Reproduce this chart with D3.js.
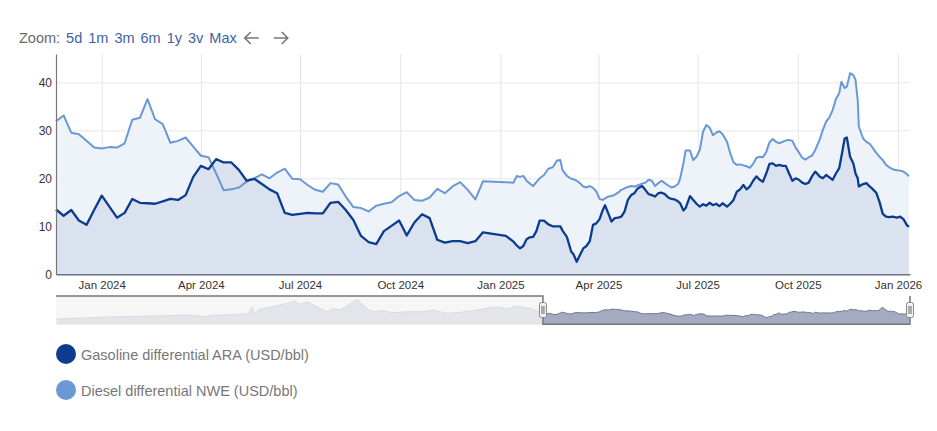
<!DOCTYPE html>
<html>
<head>
<meta charset="utf-8">
<script src="https://cdn.jsdelivr.net/npm/d3@7/dist/d3.min.js"></script>
<style>
    body { margin: 0; background: #fff; }
    svg text { font-family: "Liberation Sans", Arial, sans-serif; }
</style>
</head>
<body>
<div id="chart-area"></div>
<script>

// Dates of the observations (weekly first, then roughly every 3 days)
var dates = [
    "2023-11-20","2023-11-27","2023-12-04","2023-12-11","2023-12-18","2023-12-25",
    "2024-01-01","2024-01-08","2024-01-15","2024-01-22","2024-01-29","2024-02-05",
    "2024-02-12","2024-02-19","2024-02-26","2024-03-04","2024-03-11","2024-03-18",
    "2024-03-25","2024-04-01","2024-04-08","2024-04-15","2024-04-22","2024-04-29",
    "2024-05-06","2024-05-13","2024-05-20","2024-05-27","2024-06-03","2024-06-10",
    "2024-06-17","2024-06-24","2024-07-01","2024-07-08","2024-07-15","2024-07-22",
    "2024-07-29","2024-08-05","2024-08-12","2024-08-19","2024-08-26","2024-09-02",
    "2024-09-09","2024-09-16","2024-09-23","2024-09-30","2024-10-07","2024-10-14",
    "2024-10-21","2024-10-28","2024-11-04","2024-11-11","2024-11-18","2024-11-25",
    "2024-12-02","2024-12-09","2024-12-16","2025-01-06",
    "2025-01-13","2025-01-16","2025-01-19","2025-01-22","2025-01-25","2025-01-28",
    "2025-01-31","2025-02-03","2025-02-06","2025-02-10","2025-02-14","2025-02-18",
    "2025-02-22","2025-02-25","2025-02-27","2025-03-03","2025-03-07","2025-03-09",
    "2025-03-12","2025-03-15","2025-03-18","2025-03-21","2025-03-24","2025-03-27",
    "2025-03-30","2025-04-02","2025-04-05","2025-04-07","2025-04-10","2025-04-13",
    "2025-04-16","2025-04-19","2025-04-22","2025-04-25","2025-04-28","2025-05-01",
    "2025-05-04","2025-05-07","2025-05-11","2025-05-14","2025-05-17","2025-05-20",
    "2025-05-23","2025-05-26","2025-05-29","2025-06-01","2025-06-04","2025-06-07",
    "2025-06-10","2025-06-13","2025-06-15","2025-06-18","2025-06-20","2025-06-24",
    "2025-06-27","2025-06-30","2025-07-03","2025-07-06","2025-07-09","2025-07-12",
    "2025-07-15","2025-07-18","2025-07-21","2025-07-24","2025-07-28","2025-07-31",
    "2025-08-03","2025-08-06","2025-08-09","2025-08-12","2025-08-15","2025-08-18",
    "2025-08-21","2025-08-24","2025-08-27","2025-08-30","2025-09-02","2025-09-05",
    "2025-09-08","2025-09-11","2025-09-14","2025-09-17","2025-09-20","2025-09-23",
    "2025-09-26","2025-09-29","2025-10-02","2025-10-05","2025-10-08","2025-10-11",
    "2025-10-14","2025-10-17","2025-10-21","2025-10-24","2025-10-27","2025-10-30",
    "2025-11-02","2025-11-05","2025-11-08","2025-11-10","2025-11-13","2025-11-15",
    "2025-11-18","2025-11-21","2025-11-23","2025-11-25","2025-11-26","2025-11-30",
    "2025-12-03","2025-12-06","2025-12-09","2025-12-12","2025-12-15","2025-12-18",
    "2025-12-21","2025-12-24","2025-12-27","2025-12-31","2026-01-03","2026-01-06",
    "2026-01-09","2026-01-11"
];

var gasoline = [
    13.5, 12.2, 13.4, 11.2, 10.3, 13.4,
    16.4, 14.1, 11.8, 12.8, 15.7, 14.9,
    14.8, 14.7, 15.2, 15.7, 15.5, 16.5,
    20.3, 22.6, 21.9, 24.0, 23.3, 23.3,
    21.7, 19.5, 19.9, 18.8, 17.7, 16.9,
    12.8, 12.4, 12.6, 12.8, 12.7, 12.7,
    14.9, 15.1, 13.4, 11.3, 8.0, 6.7,
    6.3, 9.0, 10.1, 11.2, 8.1, 10.8,
    12.5, 11.7, 7.2, 6.6, 6.9, 6.9,
    6.5, 6.9, 8.75, 8.0,
    6.8, 6.0, 5.4, 5.9, 7.3, 7.7,
    7.8, 9.0, 11.2, 11.2, 10.4, 10.0,
    10.0, 10.0, 9.1, 7.8, 4.7, 4.2,
    2.6, 4.0, 5.4, 5.9, 6.9, 10.3,
    10.6, 11.5, 13.4, 14.4, 12.7, 11.0,
    11.7, 11.8, 12.0, 13.1, 15.5, 16.5,
    16.9, 17.9, 18.4, 17.6, 16.7, 16.5,
    16.2, 16.9, 17.0, 16.7, 16.0, 15.7,
    15.6, 15.2, 14.8, 13.3, 13.8, 16.3,
    15.5, 14.7, 14.1, 14.6, 14.3, 14.9,
    14.4, 14.7, 14.2, 14.8, 14.1, 14.7,
    15.5, 17.2, 17.7, 18.6, 17.7, 18.3,
    19.5, 20.4, 19.7, 19.3, 21.0, 23.0,
    23.1, 22.6, 22.8, 22.6, 22.6, 21.0,
    19.5, 20.0, 19.7, 19.1, 18.8, 19.1,
    20.4, 21.4, 20.4, 20.0, 20.7, 20.2,
    19.7, 21.0, 22.1, 24.5, 28.3, 28.5,
    24.5, 23.1, 21.0, 20.0, 18.3, 18.8,
    19.0, 18.3, 17.7, 17.0, 15.1, 12.6,
    12.0, 11.9, 12.0, 11.8, 12.0, 11.5,
    10.3, 9.9
];

var diesel = [
    31.9, 33.1, 29.5, 29.2, 27.8, 26.4,
    26.2, 26.5, 26.4, 27.3, 32.2, 32.6,
    36.5, 32.3, 31.3, 27.4, 27.8, 28.5,
    26.6, 24.7, 24.4, 21.0, 17.5, 17.7,
    18.1, 19.3, 20.0, 20.8, 20.0, 21.2,
    22.0, 19.9, 19.8, 18.6, 17.6, 17.2,
    19.0, 18.7, 16.2, 14.0, 13.8, 13.1,
    14.3, 14.7, 15.0, 16.3, 17.1, 15.5,
    15.3, 16.0, 17.8, 16.9, 18.3, 19.2,
    17.6, 15.6, 19.4, 19.2,
    19.1, 20.5, 20.3, 20.5, 19.5, 18.9,
    18.4, 19.2, 20.0, 20.7, 22.0, 22.3,
    23.7, 23.8, 21.7, 20.5, 19.9, 19.8,
    19.5, 19.0, 18.3, 18.1, 18.4, 18.0,
    17.3, 15.7, 15.5, 15.8, 16.2, 16.3,
    16.6, 17.0, 17.6, 17.9, 18.2, 18.4,
    18.3, 18.5, 18.9, 19.1, 19.7, 19.5,
    18.4, 19.0, 19.5, 19.0, 18.5, 18.1,
    18.3, 18.8, 20.0, 23.1, 25.8, 25.8,
    23.8, 24.5, 25.9, 29.7, 31.1, 30.6,
    29.0, 29.5, 29.8, 29.2, 27.6, 25.2,
    23.3, 22.8, 22.9, 22.7, 22.5, 22.2,
    23.0, 24.3, 24.5, 24.4, 25.5, 27.5,
    28.2, 27.6, 27.3, 27.6, 27.9, 28.0,
    27.8, 26.4, 25.4, 24.3, 23.9, 24.4,
    24.7, 25.9, 28.0, 30.1, 31.8, 32.7,
    34.2, 36.5, 37.7, 40.1, 38.8, 39.1,
    41.9, 41.5, 40.5, 36.3, 30.8, 28.3,
    27.6, 27.2, 26.3, 25.3, 24.5, 23.8,
    22.8, 22.3, 21.9, 21.7, 21.6, 21.4,
    20.9, 20.4
];

// Navigator history before the zoomed range (first series, full history)
var navHistoryDates = [
    "2021-01-15","2021-03-27","2021-06-06","2021-08-17","2021-10-27","2021-11-24",
    "2021-12-15","2022-02-11","2022-03-02","2022-03-08","2022-03-15","2022-03-25",
    "2022-04-22","2022-05-22","2022-06-08","2022-06-19","2022-07-04","2022-07-25",
    "2022-08-16","2022-08-28","2022-09-12","2022-09-27","2022-10-19","2022-11-09",
    "2022-11-22","2022-12-13","2023-01-04","2023-02-02","2023-03-09","2023-03-30",
    "2023-04-29","2023-05-27","2023-06-23","2023-07-23","2023-08-20","2023-09-04",
    "2023-09-25","2023-10-23"
];
var navHistoryValues = [
    -0.8, 2.5, 5.5, 6.8, 9.3, 5.0,
    8.5, 11.0, 13.5, 30.0, 13.5, 23.5,
    30.0, 38.5, 45.0, 36.0, 42.5, 30.0,
    17.5, 26.0, 21.8, 31.8, 48.5, 26.0,
    17.5, 20.0, 15.0, 17.5, 17.5, 21.8,
    13.5, 16.0, 20.0, 26.0, 30.0, 23.5,
    31.8, 26.0
];

var yTicks = [0, 10, 20, 30, 40];
var zoomButtons = ["5d", "1m", "3m", "6m", "1y", "3v", "Max"];
var seriesNames = ["Gasoline differential ARA (USD/bbl)", "Diesel differential NWE (USD/bbl)"];
var seriesColors = ["#0b3c8d", "#6a98d4"];
var areaColors = ["#d7e0ee", "#edf2f9"];

var parseDate = d3.timeParse("%Y-%m-%d");

var margin = {top: 54, right: 27, bottom: 157, left: 56};
var svgWidth = 937, svgHeight = 431;
var width = svgWidth - margin.left - margin.right;
var height = 274.3 - margin.top;

var data = dates.map(function(d, i) {
    return {date: parseDate(d), gas: gasoline[i], diesel: diesel[i]};
});

var svg = d3.select("#chart-area").append("svg")
    .attr("width", svgWidth)
    .attr("height", svgHeight);

// Zoom buttons row
var zoomRow = svg.append("g").attr("transform", "translate(19,43)");
var zoomLabel = zoomRow.append("text")
    .text("Zoom:")
    .style("font-size", "14.5px")
    .style("fill", "#6a6a6a");
var btnX = zoomLabel.node().getComputedTextLength() + 6;
zoomButtons.forEach(function(b) {
    var t = zoomRow.append("text")
        .attr("x", btnX)
        .text(b)
        .style("font-size", "14.5px")
        .style("fill", "#40639f");
    btnX += t.node().getComputedTextLength() + 6;
});
// arrows
[[btnX + 9, -1], [btnX + 38, 1]].forEach(function(a) {
    var cx = a[0], dir = a[1];
    zoomRow.append("path")
        .attr("d", "M" + (cx - 7) + ",-5 H" + (cx + 7) + " M" + (cx + 7 * dir - 6 * dir) + ",-11 L" + (cx + 7 * dir) + ",-5 L" + (cx + 7 * dir - 6 * dir) + ",1")
        .attr("fill", "none")
        .attr("stroke", "#777")
        .attr("stroke-width", 1.6);
});

var g = svg.append("g")
    .attr("transform", "translate(" + margin.left + "," + margin.top + ")");

// Scales
var x = d3.scaleTime()
    .domain([parseDate("2023-11-20"), parseDate("2026-01-12")])
    .range([0, width]);
var y = d3.scaleLinear()
    .domain([0, 45.9])
    .range([height, 0]);

// Grid
g.append("g")
    .attr("class", "grid")
    .call(d3.axisLeft(y).tickValues(yTicks).tickSize(-width).tickFormat(""))
    .call(function(s) { s.select(".domain").remove(); })
    .selectAll("line").attr("stroke", "#e6e6e6");
g.append("g")
    .attr("class", "grid")
    .attr("transform", "translate(0," + height + ")")
    .call(d3.axisBottom(x).ticks(d3.timeMonth.every(3)).tickSize(-height).tickFormat(""))
    .call(function(s) { s.select(".domain").remove(); })
    .selectAll("line").attr("stroke", "#e6e6e6");

// Areas
var dieselArea = d3.area()
    .x(function(d) { return x(d.date); })
    .y0(height)
    .y1(function(d) { return y(d.diesel); });
var gasArea = d3.area()
    .x(function(d) { return x(d.date); })
    .y0(height)
    .y1(function(d) { return y(d.gas); });

g.append("path").datum(data).attr("d", dieselArea).attr("fill", areaColors[1]).attr("fill-opacity", 0.95);
g.append("path").datum(data).attr("d", gasArea).attr("fill", areaColors[0]).attr("fill-opacity", 0.9);

var dieselLine = d3.line()
    .x(function(d) { return x(d.date); })
    .y(function(d) { return y(d.diesel); });
var gasLine = d3.line()
    .x(function(d) { return x(d.date); })
    .y(function(d) { return y(d.gas); });

g.append("path").datum(data).attr("d", dieselLine)
    .attr("fill", "none").attr("stroke", seriesColors[1]).attr("stroke-width", 2).attr("stroke-linejoin", "round");
g.append("path").datum(data).attr("d", gasLine)
    .attr("fill", "none").attr("stroke", seriesColors[0]).attr("stroke-width", 2.3).attr("stroke-linejoin", "round");

// Axes
var yAxis = g.append("g")
    .call(d3.axisLeft(y).tickValues(yTicks).tickSize(0).tickPadding(4));
yAxis.select(".domain").attr("stroke", "#777").attr("stroke-width", 1.2);
yAxis.selectAll("text").style("font-size", "12px").style("fill", "#333");

var xAxis = g.append("g")
    .attr("transform", "translate(0," + height + ")")
    .call(d3.axisBottom(x).ticks(d3.timeMonth.every(3)).tickSize(0).tickPadding(7)
        .tickFormat(d3.timeFormat("%b %Y")));
xAxis.select(".domain").attr("stroke", "#6b7489").attr("stroke-width", 1.5);
xAxis.selectAll("text").style("font-size", "11.5px").style("fill", "#333");

// Navigator
var navTop = 296, navBottom = 324.3;
var navData = navHistoryDates.map(function(d, i) {
    return {date: parseDate(d), value: navHistoryValues[i]};
}).concat(data.map(function(d) { return {date: d.date, value: d.gas}; }));

var navX = d3.scaleTime()
    .domain([parseDate("2021-01-14"), parseDate("2026-01-12")])
    .range([margin.left, margin.left + width]);
var navY = d3.scaleLinear()
    .domain([-14, 57])
    .range([navBottom, navTop]);

var nav = svg.append("g").attr("class", "navigator");
var navArea = d3.area()
    .x(function(d) { return navX(d.date); })
    .y0(navBottom)
    .y1(function(d) { return navY(d.value); });
var navLine = d3.line()
    .x(function(d) { return navX(d.date); })
    .y(function(d) { return navY(d.value); });

nav.append("path").datum(navData).attr("d", navArea).attr("fill", "#a3abc0");
nav.append("path").datum(navData).attr("d", navLine)
    .attr("fill", "none").attr("stroke", "#6c7793").attr("stroke-width", 1);

var selStart = navX(x.domain()[0]);
var selEnd = navX(x.domain()[1]);

// mask outside the selected range
nav.append("rect")
    .attr("x", margin.left)
    .attr("y", navTop)
    .attr("width", selStart - margin.left)
    .attr("height", navBottom - navTop)
    .attr("fill", "#f4f4f4")
    .attr("fill-opacity", 0.8);

nav.append("path")
    .attr("d", "M" + margin.left + "," + navTop + " H" + selStart + " V" + navBottom + " H" + selEnd + " V" + navTop)
    .attr("fill", "none")
    .attr("stroke", "#777")
    .attr("stroke-width", 1.5);

[selStart, selEnd].forEach(function(hx) {
    var h = nav.append("g").attr("transform", "translate(" + hx + "," + (navTop + 14) + ")");
    h.append("rect")
        .attr("x", -3.5).attr("y", -7.5)
        .attr("width", 7).attr("height", 15)
        .attr("rx", 2)
        .attr("fill", "#f2f2f2")
        .attr("stroke", "#888");
    h.append("path")
        .attr("d", "M-1,-4 V4 M1,-4 V4")
        .attr("stroke", "#666")
        .attr("stroke-width", 1);
});

// Legend
var legend = svg.append("g").attr("transform", "translate(66,354)");
seriesNames.forEach(function(name, i) {
    var item = legend.append("g").attr("transform", "translate(0," + (i * 36) + ")");
    item.append("circle").attr("r", 10).attr("fill", seriesColors[i]);
    item.append("text")
        .attr("x", 15)
        .attr("y", 5.5)
        .text(name)
        .style("font-size", "14.5px")
        .style("fill", "#777");
});

</script>
</body>
</html>
